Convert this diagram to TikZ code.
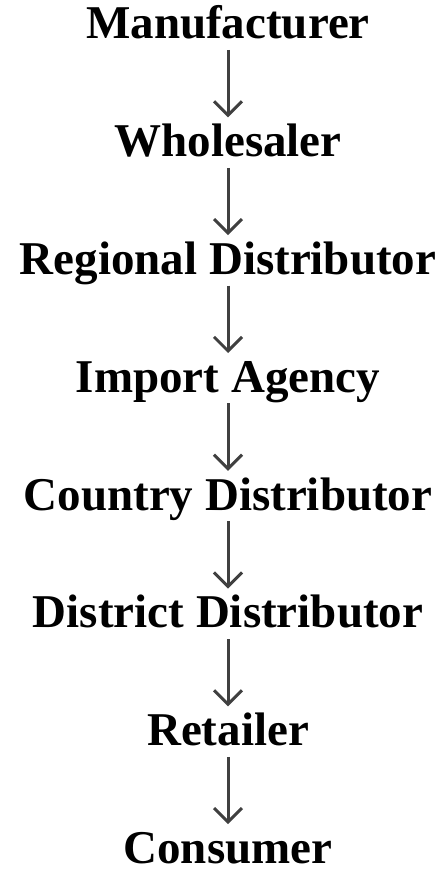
\documentclass[tikz,border=0pt]{standalone}
\usepackage{fontspec}
\setmainfont{Liberation Serif}
\usetikzlibrary{arrows.meta}
\definecolor{arrowgray}{HTML}{404040}
\begin{document}
\begin{tikzpicture}[x=1pt,y=1pt,
  stagebox/.style={anchor=south, inner sep=0pt, text height=32pt, text depth=0pt,
    font=\fontsize{47}{56}\selectfont\bfseries, text=black},
  flow/.style={draw=arrowgray, shorten <=11pt, shorten >=7pt,
    -{Straight Barb[length=14pt,width=28pt]}}]
\useasboundingbox (0,0) rectangle (444,-872);
\node[stagebox] (n1) at (228,-39)    {Manufacturer};
\node[stagebox] (n2) at (228,-156.8) {Wholesaler};
\node[stagebox] (n3) at (228,-274.6) {Regional Distributor};
\node[stagebox] (n4) at (228,-392.4) {Import Agency};
\node[stagebox] (n5) at (228,-510.2) {Country Distributor};
\node[stagebox] (n6) at (228,-628)   {District Distributor};
\node[stagebox] (n7) at (228,-745.8) {Retailer};
\node[stagebox] (n8) at (228,-863.6) {Consumer};
\foreach \a/\b in {n1/n2,n2/n3,n3/n4,n4/n5,n5/n6,n6/n7,n7/n8}
  \draw[flow, line width=3pt] (\a.south) -- (\b.north);
\end{tikzpicture}
\end{document}
